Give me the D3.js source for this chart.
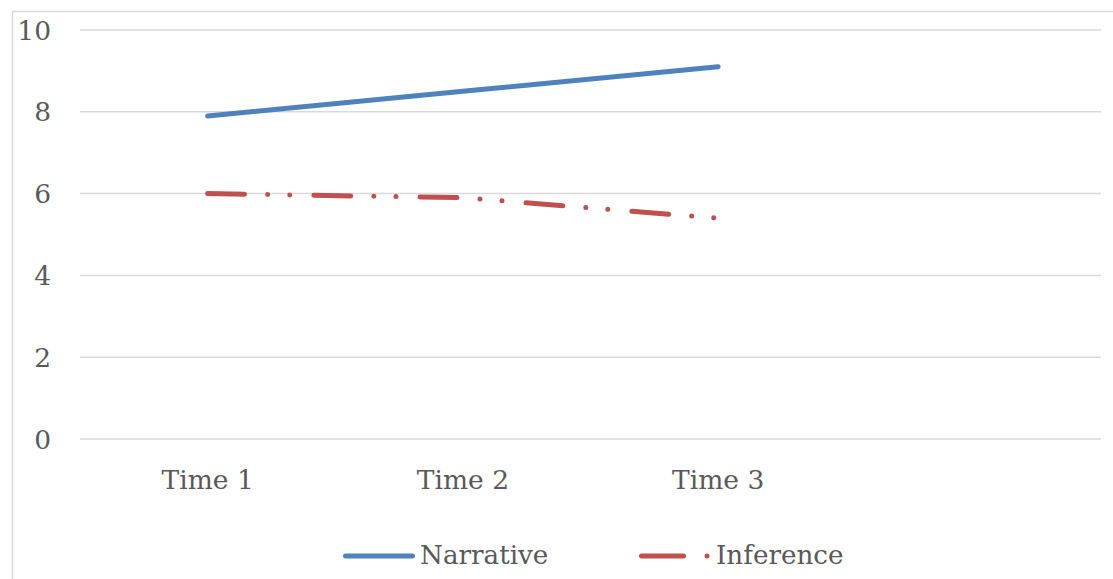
<!DOCTYPE html>
<html><head><meta charset="utf-8">
<script src="https://cdn.jsdelivr.net/npm/d3@7"></script>
<style>body{margin:0;background:#fff}svg{display:block}text{font-family:"DejaVu Serif",serif;fill:#595959}</style>
</head><body><svg id="c" width="1113" height="579"></svg>
<script>
const categories = ["Time 1","Time 2","Time 3",""];
const narrative = [7.9, 8.5, 9.1];
const inference = [6.0, 5.9, 5.4];
const yTicks = [0,2,4,6,8,10];
const seriesNames = ["Narrative","Inference"];

const svg = d3.select("#c");
svg.append("rect").attr("x",12.5).attr("y",11.5).attr("width",1120).attr("height",600)
  .attr("fill","#fff").attr("stroke","#d9d9d9").attr("stroke-width",1.5);

const x = d3.scaleBand().domain(categories).range([80,1101]);
const y = d3.scaleLinear().domain([0,10]).range([439,30]);

const g = svg.append("g");
g.selectAll("line.grid").data(yTicks).join("line").attr("class","grid")
  .attr("x1",80).attr("x2",1101).attr("y1",d=>y(d)).attr("y2",d=>y(d))
  .attr("stroke","#d9d9d9").attr("stroke-width",1.5);

g.selectAll("text.yt").data(yTicks).join("text").attr("class","yt")
  .attr("x",51).attr("y",d=>y(d)).attr("dy","0.36em").attr("text-anchor","end")
  .attr("font-size",26.5).text(d=>d);

g.selectAll("text.xt").data(categories).join("text").attr("class","xt")
  .attr("x",d=>x(d)+x.bandwidth()/2).attr("y",479).attr("dy","0.36em").attr("text-anchor","middle")
  .attr("font-size",26.5).text(d=>d);

const line = d3.line().x((d,i)=>x(categories[i])+x.bandwidth()/2).y(d=>y(d));
const dash = "37,23,0.1,22,0.1,24";
g.append("path").datum(narrative).attr("d",line).attr("fill","none")
  .attr("stroke","#4F81BD").attr("stroke-width",5).attr("stroke-linecap","round");
g.append("path").datum(inference).attr("d",line).attr("fill","none")
  .attr("stroke","#C0504D").attr("stroke-width",5).attr("stroke-linecap","round")
  .attr("stroke-dasharray",dash);

// legend
const lg = svg.append("g");
lg.append("line").attr("x1",345.5).attr("x2",412.5).attr("y1",556).attr("y2",556)
  .attr("stroke","#4F81BD").attr("stroke-width",5).attr("stroke-linecap","round");
lg.append("text").attr("x",420).attr("y",555).attr("dy","0.36em").attr("font-size",26.2).text(seriesNames[0]);
lg.append("line").attr("x1",641.5).attr("x2",683.5).attr("y1",556).attr("y2",556)
  .attr("stroke","#C0504D").attr("stroke-width",5).attr("stroke-linecap","round");
lg.append("circle").attr("cx",707).attr("cy",556).attr("r",2.5).attr("fill","#C0504D");
lg.append("text").attr("x",716).attr("y",555).attr("dy","0.36em").attr("font-size",26.2).text(seriesNames[1]);
</script></body></html>
